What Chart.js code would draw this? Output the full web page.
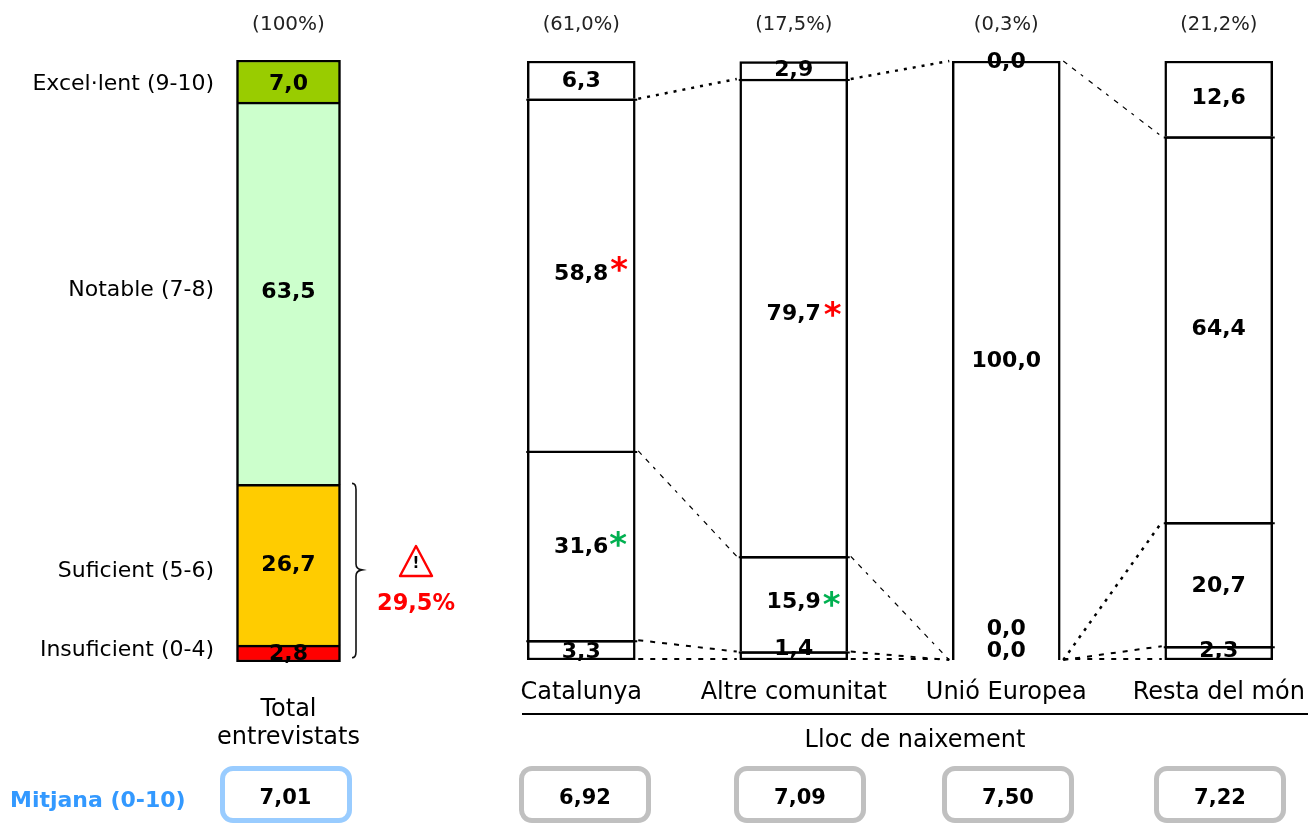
<!DOCTYPE html>
<html>
<head>
<meta charset="utf-8">
<title>Valoració per lloc de naixement</title>
<script src="https://cdn.jsdelivr.net/npm/chart.js@4/dist/chart.umd.min.js"></script>
<style>
  html, body { margin: 0; padding: 0; background: #fff; overflow: hidden; }
  body { position: relative; width: 1308px; height: 823px; font-family: "DejaVu Sans", sans-serif; color: #000; }
  canvas { position: absolute; top: 0; }
  .box { position: absolute; top: 766px; width: 122px; height: 47px; border: 5px solid #c0c0c0; border-radius: 13px;
         text-align: center; font-weight: bold; font-size: 21px; line-height: 52px; box-sizing: content-box; background: #fff; }
  .box.total { border-color: #99ccff; }
  #mitjana { position: absolute; left: 10px; top: 787px; font-weight: bold; font-size: 22px; color: #3399ff; white-space: nowrap; }
  #linia { position: absolute; left: 522px; right: 0; top: 713px; height: 2px; background: #000; }
  #lloc { position: absolute; left: 715px; width: 400px; top: 725px; text-align: center; font-size: 24px; }
</style>
</head>
<body>
<canvas id="chartTotal" width="470" height="823" style="left:0;width:470px;height:823px"></canvas>
<canvas id="chartLloc" width="850" height="823" style="left:475px;width:850px;height:823px"></canvas>
<div id="linia"></div>
<div id="lloc">Lloc de naixement</div>
<div id="mitjana">Mitjana (0-10)</div>

<script>
// dades
const nivells = ["Insuficient (0-4)", "Suficient (5-6)", "Notable (7-8)", "Excel·lent (9-10)"];
const colorsNivell = ["#ff0000", "#ffcc00", "#ccffcc", "#99cc00"];
const alcadaEtiquetes = [2, 15, 61.7, 95.9]; // on cauen les etiquetes de l'eix (valor, no pixel)

const categoriaTotal = [["Total", "entrevistats"]];
const pesTotal = ["(100%)"];
const total = [2.8, 26.7, 63.5, 7.0];
const mitjanaTotal = "7,01";

const llocs = ["Catalunya", "Altre comunitat", "Unió Europea", "Resta del món"];
const pesLlocs = ["(61,0%)", "(17,5%)", "(0,3%)", "(21,2%)"];
const insuficient = [3.3, 1.4, 0.0, 2.3];
const suficient = [31.6, 15.9, 0.0, 20.7];
const notable = [58.8, 79.7, 100.0, 64.4];
const excellent = [6.3, 2.9, 0.0, 12.6];
const mitjanes = ["6,92", "7,09", "7,50", "7,22"];

// ajustos de les etiquetes respecte del centre del tram (px)
const ajustTotal = [1, 1, -1, 3];
const ajustLlocs = [
  [2, -7, -9, -2],
  [2, -2, -31, 2],
  [-1, -3, 1, 0],
  [1, 0, 1, 0],
];
const estrelles = [
  { nivell: 2, lloc: 0, color: "#ff0000", dx: 38, dy: -3 },
  { nivell: 2, lloc: 1, color: "#ff0000", dx: 39, dy: 0 },
  { nivell: 1, lloc: 0, color: "#00b050", dx: 37, dy: 2 },
  { nivell: 1, lloc: 1, color: "#00b050", dx: 38, dy: 3 },
];
// estil de cada tram de línia entre barres: [llinda 0..3] per parella de barres
const GRUIXUDA = { width: 2.5, dash: [3, 6] };
const RATLLES = { width: 2, dash: [5, 7] };
const FINA = { width: 1.2, dash: [5, 6, 5, 6, 3, 7] };
const estilsLinies = [
  [RATLLES, RATLLES, FINA, GRUIXUDA],
  [RATLLES, RATLLES, FINA, GRUIXUDA],
  [RATLLES, RATLLES, GRUIXUDA, FINA],
];

const NEGRE = "#000";
const FONT = '"DejaVu Sans"';

function fmt(v) {
  return v.toFixed(1).replace(".", ",");
}

function fixaMida(mida) {
  return function (scale) {
    scale.height = mida;
  };
}

function vora(i) {
  return { top: 2.5, left: 2.5, right: 2.5, bottom: i === 0 ? 2.5 : 0 };
}

const etiquetesBarres = {
  id: "etiquetesBarres",
  afterDatasetsDraw(chart, args, opts) {
    const ctx = chart.ctx;
    ctx.save();
    ctx.font = "bold 22px " + FONT;
    ctx.fillStyle = "#000";
    ctx.textAlign = "center";
    ctx.textBaseline = "middle";
    chart.data.datasets.forEach((ds, i) => {
      chart.getDatasetMeta(i).data.forEach((bar, j) => {
        const y = (bar.y + bar.base) / 2 + opts.ajust[i][j];
        ctx.fillText(fmt(ds.data[j]), bar.x, y);
      });
    });
    ctx.restore();
  },
};

// claudàtor i avís del gràfic de l'esquerra
const avis = {
  id: "avis",
  afterDatasetsDraw(chart) {
    const ctx = chart.ctx;
    const y = chart.scales.y;
    const top = y.getPixelForValue(total[0] + total[1]) - 1;
    const bottom = y.getPixelForValue(0.7);
    const mig = y.getPixelForValue(15.3);
    ctx.save();
    ctx.strokeStyle = "#111";
    ctx.lineWidth = 1.6;
    ctx.beginPath();
    ctx.moveTo(352, top);
    ctx.quadraticCurveTo(356, top, 356, top + 6);
    ctx.lineTo(356, mig - 6);
    ctx.quadraticCurveTo(356, mig - 1, 362, mig);
    ctx.quadraticCurveTo(356, mig + 1, 356, mig + 6);
    ctx.lineTo(356, bottom - 6);
    ctx.quadraticCurveTo(356, bottom, 352, bottom);
    ctx.stroke();

    ctx.strokeStyle = "#ff0000";
    ctx.lineWidth = 2.4;
    ctx.lineJoin = "round";
    ctx.beginPath();
    ctx.moveTo(416, 546);
    ctx.lineTo(432, 576);
    ctx.lineTo(400, 576);
    ctx.closePath();
    ctx.stroke();

    ctx.textAlign = "center";
    ctx.textBaseline = "middle";
    ctx.fillStyle = "#000";
    ctx.font = "bold 15px " + FONT;
    ctx.fillText("!", 416, 564);
    ctx.fillStyle = "#ff0000";
    ctx.font = "bold 22.5px " + FONT;
    ctx.fillText("29,5%", 416, 604);
    ctx.restore();
  },
};

// línies puntejades entre barres, petit sobrant dels separadors i estrelles
const unions = {
  id: "unions",
  afterDatasetsDraw(chart) {
    const ctx = chart.ctx;
    const y = chart.scales.y;
    const series = chart.data.datasets.map((d) => d.data);
    const metes = chart.data.datasets.map((d, i) => chart.getDatasetMeta(i));
    const llinda = (k, lloc) => {
      let suma = 0;
      for (let i = 0; i < k; i++) suma += series[i][lloc];
      return y.getPixelForValue(suma);
    };
    ctx.save();
    ctx.strokeStyle = "#000";
    for (let lloc = 0; lloc < llocs.length - 1; lloc++) {
      const x0 = metes[0].data[lloc].x + metes[0].data[lloc].width / 2 + 3;
      const x1 = metes[0].data[lloc + 1].x - metes[0].data[lloc + 1].width / 2 - 3;
      for (let k = 0; k < 4; k++) {
        const estil = estilsLinies[lloc][k];
        ctx.lineWidth = estil.width;
        ctx.setLineDash(estil.dash);
        ctx.beginPath();
        ctx.moveTo(x0, llinda(k, lloc) - (k === 0 ? 1 : 0));
        ctx.lineTo(x1, llinda(k, lloc + 1) - (k === 0 ? 1 : 0));
        ctx.stroke();
      }
      ctx.setLineDash([]);
    }
    ctx.lineWidth = 2;
    for (let lloc = 0; lloc < llocs.length; lloc++) {
      if (series[2][lloc] === 100) continue;
      const bar = metes[0].data[lloc];
      for (let k = 1; k < 4; k++) {
        ctx.beginPath();
        ctx.moveTo(bar.x - bar.width / 2 - 1, llinda(k, lloc) + 1);
        ctx.lineTo(bar.x + bar.width / 2 + 2, llinda(k, lloc) + 1);
        ctx.stroke();
      }
    }
    ctx.font = "bold 34px " + FONT;
    ctx.textAlign = "center";
    ctx.textBaseline = "middle";
    estrelles.forEach((e) => {
      const bar = metes[e.nivell].data[e.lloc];
      ctx.fillStyle = e.color;
      ctx.fillText("*", bar.x + e.dx, (bar.y + bar.base) / 2 + e.dy);
    });
    ctx.restore();
  },
};

new Chart(document.getElementById("chartTotal"), {
  type: "bar",
  data: {
    labels: categoriaTotal,
    datasets: nivells.map((nom, i) => ({
      label: nom,
      data: [total[i]],
      backgroundColor: colorsNivell[i],
      borderColor: NEGRE,
      borderWidth: vora(i),
      borderSkipped: false,
      barThickness: 104,
    })),
  },
  plugins: [etiquetesBarres, avis],
  options: {
    responsive: false,
    animation: false,
    layout: { padding: { right: 121 } },
    plugins: {
      legend: { display: false },
      tooltip: { enabled: false },
      etiquetesBarres: { ajust: ajustTotal.map((v) => [v]) },
    },
    scales: {
      x: {
        stacked: true,
        afterFit: fixaMida(161),
        grid: { display: false },
        border: { display: false },
        ticks: { color: "#000", font: { family: FONT, size: 24, lineHeight: 1.17 }, padding: 26, maxRotation: 0, autoSkip: false },
      },
      x2: {
        type: "category",
        labels: pesTotal,
        position: "top",
        afterFit: fixaMida(60),
        grid: { display: false },
        border: { display: false },
        ticks: { color: "#222", font: { family: FONT, size: 20 }, padding: 15, maxRotation: 0 },
      },
      y: {
        stacked: true,
        min: 0,
        max: 100,
        afterFit(scale) {
          scale.width = 228;
        },
        afterBuildTicks(scale) {
          scale.ticks = alcadaEtiquetes.map((v) => ({ value: v }));
        },
        afterTickToLabelConversion(scale) {
          scale.ticks.forEach((t, i) => {
            t.label = nivells[i];
          });
        },
        grid: { display: false, drawTicks: false },
        border: { display: false },
        ticks: { color: "#000", font: { family: FONT, size: 22 }, padding: 14 },
      },
    },
  },
});

const seriesLlocs = [insuficient, suficient, notable, excellent];

new Chart(document.getElementById("chartLloc"), {
  type: "bar",
  data: {
    labels: llocs,
    datasets: nivells.map((nom, i) => ({
      label: nom,
      data: seriesLlocs[i],
      backgroundColor: "#fff",
      borderColor: NEGRE,
      borderWidth: vora(i),
      borderSkipped: false,
      barThickness: 108,
    })),
  },
  plugins: [unions, etiquetesBarres],
  options: {
    responsive: false,
    animation: false,
    layout: { padding: 0 },
    plugins: {
      legend: { display: false },
      tooltip: { enabled: false },
      etiquetesBarres: { ajust: ajustLlocs },
    },
    scales: {
      x: {
        stacked: true,
        afterFit: fixaMida(163),
        grid: { display: false },
        border: { display: false },
        ticks: { color: "#000", font: { family: FONT, size: 24 }, padding: 10, maxRotation: 0, autoSkip: false },
      },
      x2: {
        type: "category",
        labels: pesLlocs,
        position: "top",
        afterFit: fixaMida(61),
        grid: { display: false },
        border: { display: false },
        ticks: { color: "#222", font: { family: FONT, size: 19.5 }, padding: 16, maxRotation: 0, autoSkip: false },
      },
      y: {
        stacked: true,
        display: false,
        min: 0,
        max: 100,
      },
    },
  },
});

// caixes de la mitjana
const centresCaixes = [285.5, 585, 800, 1008, 1220];
[mitjanaTotal].concat(mitjanes).forEach((valor, i) => {
  const caixa = document.createElement("div");
  caixa.className = i === 0 ? "box total" : "box";
  caixa.style.left = centresCaixes[i] - 66 + "px";
  caixa.textContent = valor;
  document.body.appendChild(caixa);
});
</script>
</body>
</html>
